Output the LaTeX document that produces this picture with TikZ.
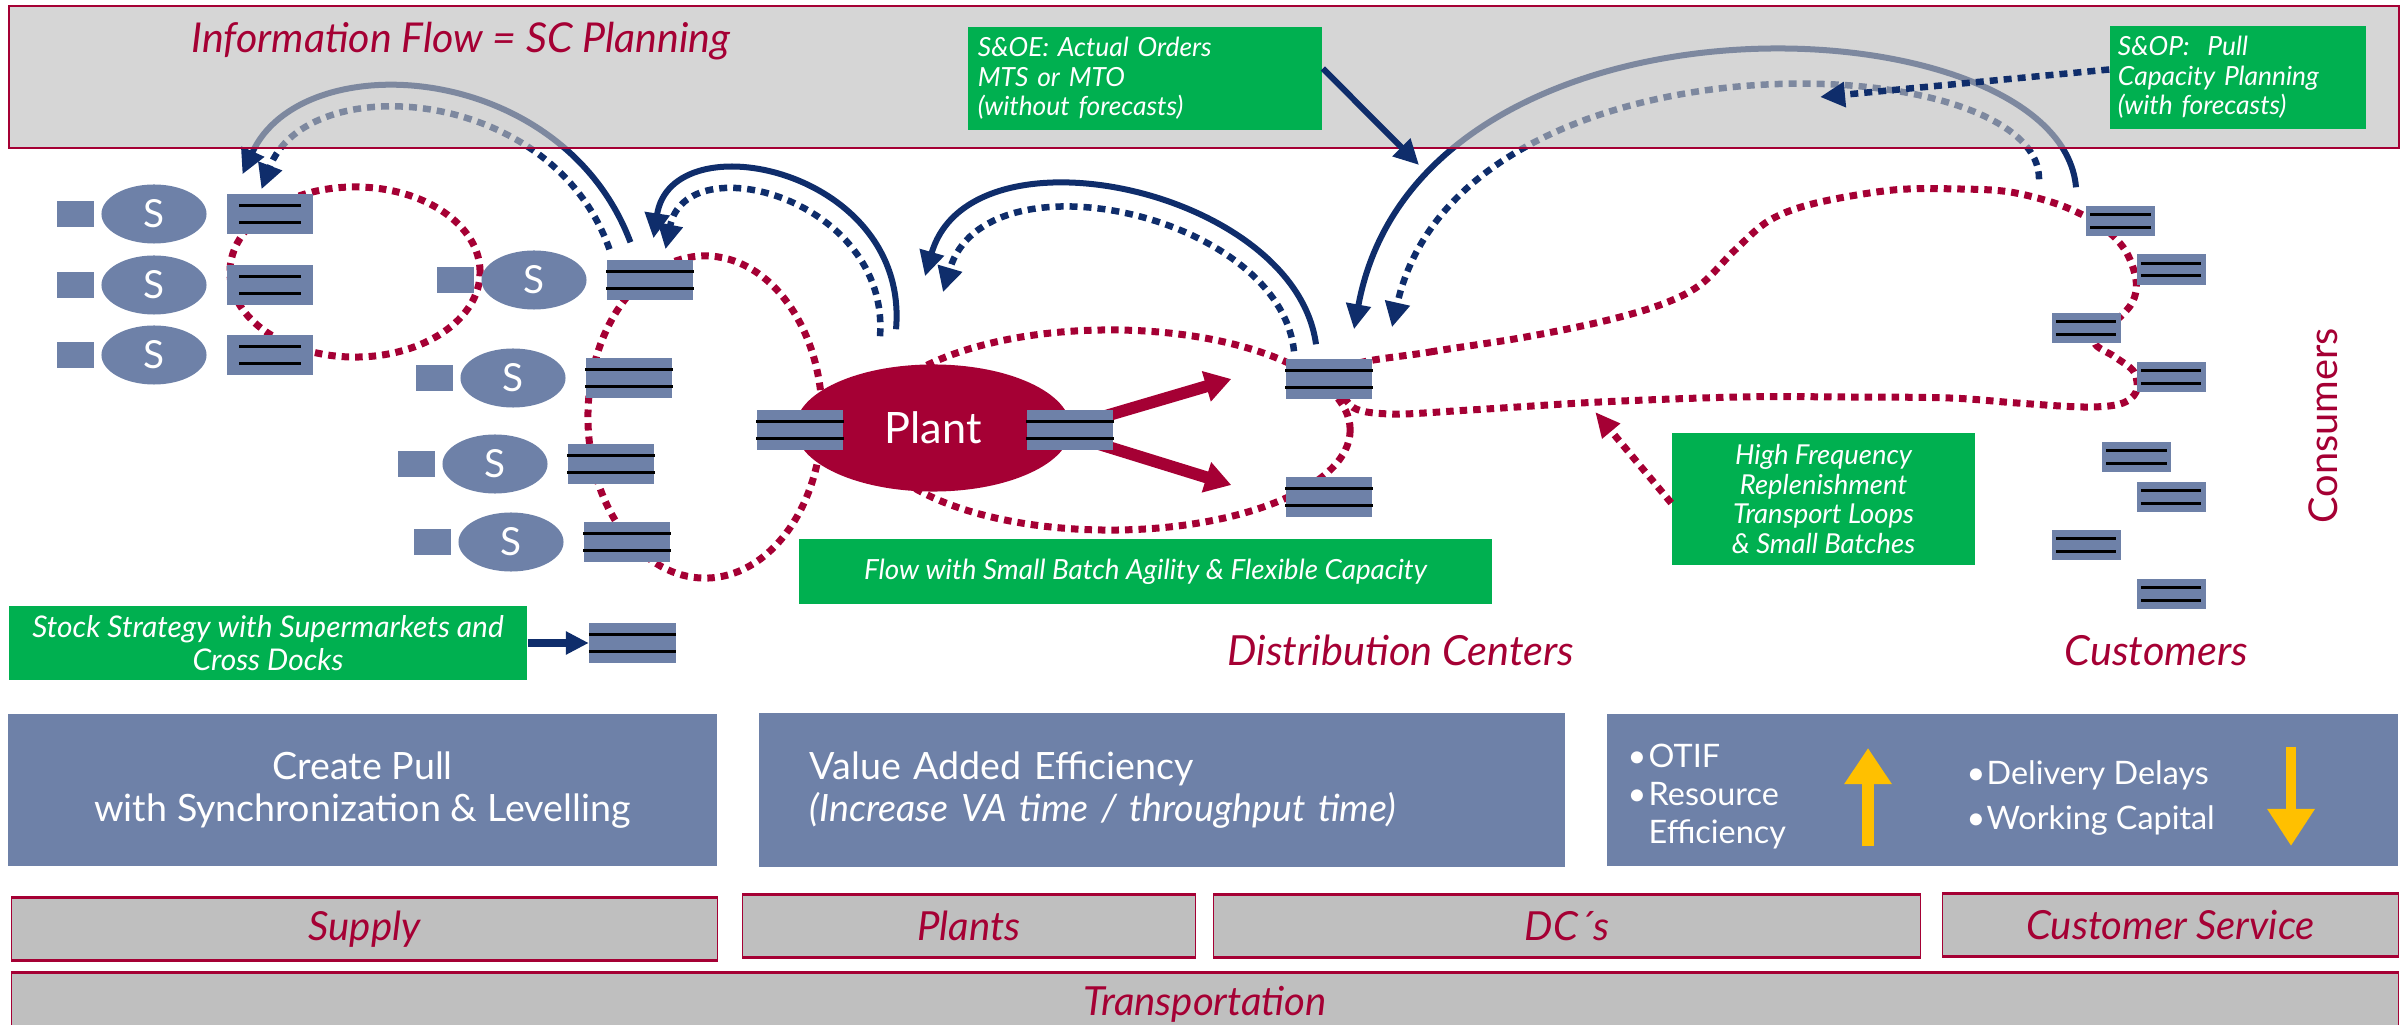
\documentclass[tikz,border=0pt]{standalone}
\usepackage{fontspec}
\setmainfont{Lato}
\usepackage{xcolor}
\usetikzlibrary{shapes.geometric, arrows.meta, positioning, calc, backgrounds}

\definecolor{scred}{HTML}{A50034}
\definecolor{scnavy}{HTML}{0F2D6B}
\definecolor{scblue}{HTML}{6E81A8}
\definecolor{scgreen}{HTML}{00B050}
\definecolor{scgold}{HTML}{FFC000}
\definecolor{scgrey}{HTML}{BFBFBF}
\definecolor{scmist}{RGB}{190,190,190}

\newcommand{\kpibul}[1]{\makebox[#1][l]{\textbullet}}

\begin{document}
\begin{tikzpicture}[x=0.01cm, y=-0.01cm,
    sup/.style={ellipse, fill=scblue, text=white, minimum width=1.05cm, minimum height=0.59cm, inner sep=0pt, font=\fontsize{11}{13}\selectfont},
    sqr/.style={fill=scblue, minimum width=0.37cm, minimum height=0.25cm, inner sep=0pt},
    stk/.style={fill=scblue, minimum width=0.86cm, minimum height=0.39cm, inner sep=0pt},
    cstk/.style={fill=scblue, minimum width=0.69cm, minimum height=0.30cm, inner sep=0pt},
    bar/.style={line width=0.03cm},
    note/.style={fill=scgreen, text=white, inner sep=0pt, font=\fontsize{7.5}{8.4}\selectfont\itshape},
    lever/.style={fill=scblue, text=white, inner sep=0pt, font=\fontsize{10.7}{11.8}\selectfont},
    area/.style={fill=scgrey, draw=scred, line width=0.01cm, text=scred, inner sep=0pt, minimum height=0.62cm, font=\fontsize{11.4}{13}\selectfont\itshape},
    place/.style={text=scred, inner sep=0pt, font=\fontsize{11.8}{13}\selectfont\itshape},
    tport/.style={scred, line width=0.07cm, dash pattern=on 0.075cm off 0.06cm},
    plan/.style={scnavy, line width=0.06cm, -{Triangle[length=0.25cm, width=0.24cm]}},
    plandot/.style={plan, line width=0.065cm, dash pattern=on 0.08cm off 0.06cm},
    fat/.style={scred, line width=0.12cm, -{Triangle[length=0.26cm, width=0.3cm]}}]

  \useasboundingbox (0,0) rectangle (2407,1025);

  \foreach \n/\x/\y in {1/154/214, 2/154/285, 3/154/355, 4/534/280, 5/513/378, 6/495/464, 7/511/542} {
    \node[sup] (s\n) at (\x,\y) {S};
    \node[sqr, left=0.06cm of s\n] (q\n) {};
    \node[stk, right=0.19cm of s\n] (b\n) {};
  }
  \node[stk] (xd) at (632.5,643) {};

  \node[ellipse, fill=scred, text=white, minimum width=2.75cm, minimum height=1.27cm, inner sep=0pt,
        font=\fontsize{12.3}{14}\selectfont] (pl) at (933,428) {Plant};
  \node[stk] (pb1) at (800,430) {};
  \node[stk] (pb2) at (1070,430) {};
  \node[stk] (dc1) at (1329,379) {};
  \node[stk] (dc2) at (1329,497) {};

  \foreach \n/\x/\y in {1/2120.5/221, 2/2171/269.5, 3/2086/328, 4/2171/377, 5/2136.5/457, 6/2171/497, 7/2086/545, 8/2171/594}
    \node[cstk] (c\n) at (\x,\y) {};

  \begin{scope}[on background layer]
    \draw[tport] (355,272) ellipse [x radius=1.25cm, y radius=0.85cm];
    \draw[tport] (705,417) ellipse [x radius=1.17cm, y radius=1.61cm];
    \draw[tport] (1110,430) ellipse [x radius=2.4cm, y radius=1cm];
    \draw[tport] plot[smooth cycle, tension=0.55] coordinates {
      (1345,368) (1430,352) (1520,338) (1600,322) (1660,305) (1700,285) (1735,250) (1770,220)
      (1816,203) (1893,190) (1960,189) (2010,192) (2060,205) (2100,225) (2125,250) (2136,280)
      (2132,303) (2112,325) (2095,343) (2115,357) (2134,372) (2136,392) (2120,404) (2083,407)
      (2017,403) (1950,398) (1850,397) (1739,397) (1600,402) (1470,410) (1390,414) (1350,405)};

    \draw[fat] ([shift={(-15,-12)}]pb2.east) -- ([xshift=-0.54cm]dc1.west);
    \draw[fat] ([shift={(-15,14)}]pb2.east) -- ([shift={(-54,-12)}]dc2.west);

    \draw[plan] ([shift={(-19.5,-17.5)}]b4.north) .. controls +(-69,-183) and +(59,-130) .. ([shift={(-27.5,-19.5)}]b1.north);
    \draw[plandot] ([shift={(-40.5,-10.5)}]b4.north) .. controls +(-58,-165) and +(45,-120) .. ([shift={(-8.5,-4.5)}]b1.north);
    \draw[plan] ([shift={(-37,-34.5)}]pl.north) .. controls +(14,-160) and +(18,-119) .. ([shift={(3.5,-21.5)}]b4.north);
    \draw[plandot] ([shift={(-53,-27.5)}]pl.north) .. controls +(10,-137) and +(21,-105) .. ([shift={(15.5,-10.5)}]b4.north);
    \draw[plan] ([shift={(-13,-14.5)}]dc1.north) .. controls +(-21,-155) and +(45,-157) .. ([shift={(-8,-87.5)}]pl.north);
    \draw[plandot] ([shift={(-35,-7.5)}]dc1.north) .. controls +(-14,-137) and +(42,-143) .. ([shift={(10,-71.5)}]pl.north);
    \draw[plan] ([shift={(-44.5,-18)}]c1.north) .. controls +(-16,-188) and +(66,-360) .. ([shift={(25,-29.5)}]dc1.north);
    \draw[plandot] ([shift={(-81.5,-26)}]c1.north) .. controls +(1,-135) and +(68,-303) .. ([shift={(63,-31.5)}]dc1.north);

    \draw[scred, line width=0.02cm, fill=scmist, fill opacity=0.63] (9,6) rectangle (2399,148);
  \end{scope}

  \foreach \b/\i in {b1/13, b2/13, b3/13, b4/0, b5/0, b6/0, b7/0, xd/0, pb1/0, pb2/0, dc1/0, dc2/0,
                     c1/5, c2/5, c3/5, c4/5, c5/5, c6/5, c7/5, c8/5}
    \foreach \f in {0.3,0.7}
      \draw[bar] ($(\b.north west)!\f!(\b.south west)+(\i,0)$) -- ($(\b.north east)!\f!(\b.south east)-(\i,0)$);

  \node[anchor=base west, place, font=\fontsize{11.7}{13}\selectfont\itshape] (title) at (191,53) {Information Flow = SC Planning};
  \node[note, minimum width=3.54cm, minimum height=1.03cm, text width=3.34cm, align=left] (soe) at (1145,78.5)
    {S\&OE: Actual Orders\\MTS or MTO\\(without forecasts)};
  \node[note, minimum width=2.56cm, minimum height=1.03cm, text width=2.4cm, align=left] (sop) at (2238,77.5)
    {S\&OP:\ \ Pull\\Capacity Planning\\(with forecasts)};
  \node[note, minimum width=5.18cm, minimum height=0.74cm, align=center, font=\fontsize{8.5}{9.6}\selectfont\itshape] (strat) at (268,643)
    {Stock Strategy with Supermarkets and\\Cross Docks};
  \node[note, minimum width=6.93cm, minimum height=0.65cm, font=\fontsize{7.9}{9}\selectfont\itshape] (flow) at (1145.5,571.5)
    {Flow with Small Batch Agility \& Flexible Capacity};
  \node[note, minimum width=3.03cm, minimum height=1.32cm, align=center, font=\fontsize{7.8}{8.4}\selectfont\itshape] (hf) at (1823.5,499)
    {High Frequency\\Replenishment\\Transport Loops\\\& Small Batches};

  \coordinate (soeend) at (1419,165);
  \coordinate (sopend) at (1820,97);
  \draw[plan] ([yshift=0.1cm]soe.east) -- (soeend);
  \draw[plandot] ([yshift=0.08cm]sop.west) -- (sopend);
  \draw[scnavy, line width=0.07cm, -{Triangle[length=0.23cm, width=0.22cm]}] (strat.east) -- (xd.west);
  \draw[tport, -{Triangle[length=0.25cm, width=0.22cm]}] ([yshift=-0.04cm]hf.west) -- ([shift={(-76,-87)}]hf.west);

  \node[anchor=base west, place] (distc) at (1227,665) {Distribution Centers};
  \node[anchor=base west, place] (cust) at (2064,665) {Customers};
  \node[rotate=90, text=scred, inner sep=0pt, font=\fontsize{11.3}{13}\selectfont] (cons) at (2323,426) {Consumers};

  \node[lever, minimum width=7.09cm, minimum height=1.52cm, align=center] (pull) at (362.5,790)
    {Create Pull\\with Synchronization \& Levelling};
  \node[lever, minimum width=8.06cm, minimum height=1.54cm, text width=7.04cm, align=left] (vae) at (1162,790)
    {Value Added Efficiency\\{\itshape (Increase VA time / throughput time)}};
  \node[lever, minimum width=7.91cm, minimum height=1.52cm] (kpi) at (2002.5,790) {};
  \node[anchor=west, text=white, align=left, inner sep=0pt, font=\fontsize{9.2}{10.8}\selectfont] (kpiup) at (1627,797)
    {\kpibul{0.21cm}OTIF\\\kpibul{0.21cm}Resource\\\hspace*{0.21cm}Efficiency};
  \node[anchor=west, text=white, align=left, inner sep=0pt, font=\fontsize{9.2}{12.8}\selectfont] (kpidown) at (1966,798)
    {\kpibul{0.2cm}Delivery Delays\\\kpibul{0.2cm}Working Capital};
  \coordinate (up0) at (1868,846);
  \coordinate (up1) at (1868,748);
  \coordinate (dn0) at (2291,747);
  \coordinate (dn1) at (2291,846);
  \draw[scgold, line width=0.12cm, -{Triangle[length=0.36cm, width=0.45cm]}] (up0) -- (up1);
  \draw[scgold, line width=0.1cm, -{Triangle[length=0.37cm, width=0.45cm]}] (dn0) -- (dn1);

  \node[area, minimum width=7.05cm] (supply) at (364.5,929) {Supply};
  \node[area, minimum width=4.52cm] (plants) at (969,926) {Plants};
  \node[area, minimum width=7.06cm] (dcs) at (1567,926) {DC´s};
  \node[area, minimum width=4.55cm] (cserv) at (2170.5,925) {Customer Service};
  \node[area, minimum width=23.86cm] (transp) at (1205,1004) {Transportation};
  \foreach \a in {supply, plants, dcs, cserv, transp} {
    \draw[scred, line width=0.035cm] (\a.north west) -- (\a.north east);
    \draw[scred, line width=0.035cm] (\a.south west) -- (\a.south east);
  }
\end{tikzpicture}
\end{document}
